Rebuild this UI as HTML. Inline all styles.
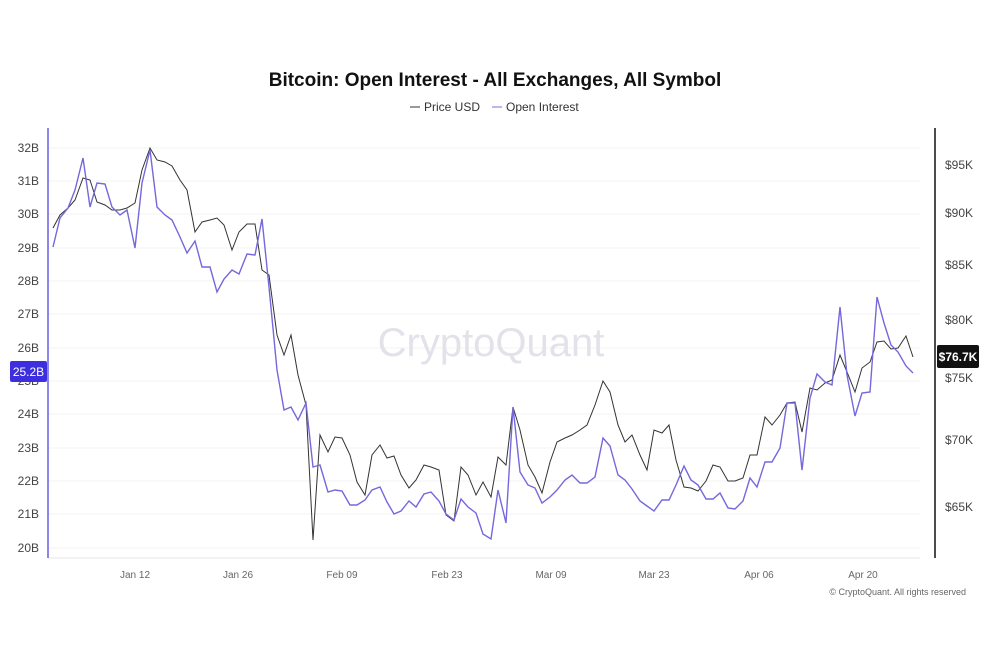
<!DOCTYPE html>
<html><head><meta charset="utf-8"><style>
html,body{margin:0;padding:0;background:#fff;}
svg{display:block;font-family:"Liberation Sans",sans-serif;}
</style></head><body>
<svg width="990" height="660" viewBox="0 0 990 660" xmlns="http://www.w3.org/2000/svg">
<rect width="990" height="660" fill="#fff"/>
<text x="495" y="86" text-anchor="middle" font-size="19" font-weight="bold" fill="#111">Bitcoin: Open Interest - All Exchanges, All Symbol</text>
<line x1="410" y1="107" x2="420" y2="107" stroke="#333" stroke-width="1"/>
<text x="424" y="111" font-size="12" fill="#333">Price USD</text>
<line x1="492" y1="107" x2="502" y2="107" stroke="#7b6fdc" stroke-width="1"/>
<text x="506" y="111" font-size="12" fill="#333">Open Interest</text>
<g stroke="#f3f3f3" stroke-width="1">
<line x1="48" y1="148" x2="920" y2="148"/><line x1="48" y1="181" x2="920" y2="181"/><line x1="48" y1="214" x2="920" y2="214"/><line x1="48" y1="248" x2="920" y2="248"/><line x1="48" y1="281" x2="920" y2="281"/><line x1="48" y1="314" x2="920" y2="314"/><line x1="48" y1="348" x2="920" y2="348"/><line x1="48" y1="381" x2="920" y2="381"/><line x1="48" y1="414" x2="920" y2="414"/><line x1="48" y1="448" x2="920" y2="448"/><line x1="48" y1="481" x2="920" y2="481"/><line x1="48" y1="514" x2="920" y2="514"/><line x1="48" y1="548" x2="920" y2="548"/>
</g>
<line x1="48" y1="558" x2="920" y2="558" stroke="#e6e6e6"/>
<text x="491" y="356" text-anchor="middle" font-size="40" fill="#e2e2ea">CryptoQuant</text>
<line x1="48" y1="128" x2="48" y2="558" stroke="#6a5de0" stroke-width="1.5"/>
<line x1="935" y1="128" x2="935" y2="558" stroke="#111" stroke-width="1.5"/>
<g font-size="12" fill="#444" text-anchor="end">
<text x="39" y="152">32B</text><text x="39" y="185">31B</text><text x="39" y="218">30B</text><text x="39" y="252">29B</text><text x="39" y="285">28B</text><text x="39" y="318">27B</text><text x="39" y="352">26B</text><text x="39" y="385">25B</text><text x="39" y="418">24B</text><text x="39" y="452">23B</text><text x="39" y="485">22B</text><text x="39" y="518">21B</text><text x="39" y="552">20B</text>
</g>
<g font-size="12" fill="#444">
<text x="945" y="169">$95K</text><text x="945" y="217">$90K</text><text x="945" y="269">$85K</text><text x="945" y="324">$80K</text><text x="945" y="382">$75K</text><text x="945" y="444">$70K</text><text x="945" y="511">$65K</text>
</g>
<g font-size="10" fill="#666" text-anchor="middle">
<text x="135" y="578">Jan 12</text><text x="238" y="578">Jan 26</text><text x="342" y="578">Feb 09</text><text x="447" y="578">Feb 23</text><text x="551" y="578">Mar 09</text><text x="654" y="578">Mar 23</text><text x="759" y="578">Apr 06</text><text x="863" y="578">Apr 20</text>
</g>
<text x="966" y="595" text-anchor="end" font-size="9" fill="#666">© CryptoQuant. All rights reserved</text>
<polyline fill="none" stroke="#333" stroke-width="1" points="53,228 60,215 68,208 75,200 83,178 90,180 97,202 105,205 112,210 120,210 127,208 135,203 142,170 150,148 157,160 165,162 172,166 180,180 187,190 195,232 202,222 210,220 217,218 224,225 232,250 239,232 247,224 255,224 262,270 269,275 277,335 284,355 291,335 298,375 306,405 313,540 320,435 328,452 335,437 342,438 350,455 357,482 365,495 372,455 380,445 387,458 394,456 401,475 409,488 416,480 424,465 431,467 439,470 446,515 454,521 461,467 468,475 476,495 483,482 491,497 498,457 506,465 513,407 520,430 528,465 535,477 542,493 550,462 557,442 565,438 572,435 580,430 587,425 595,405 603,381 610,392 618,425 625,442 632,435 640,455 647,470 654,430 662,433 669,425 676,460 684,487 691,488 698,491 706,481 713,465 720,467 728,481 735,481 743,478 750,455 757,455 765,417 772,425 780,415 787,403 795,402 802,432 810,388 817,390 825,383 832,380 840,355 847,372 855,392 862,368 870,362 877,342 884,341 891,349 898,348 906,336 913,357"/>
<polyline fill="none" stroke="#7468dc" stroke-width="1.4" points="53,247 60,218 68,208 75,190 83,158 90,207 97,183 105,184 112,207 120,215 127,210 135,248 142,183 150,150 157,207 165,215 172,220 180,237 187,253 195,241 202,267 210,267 217,292 224,279 232,270 239,274 247,254 255,255 262,219 269,287 277,370 284,410 291,407 298,420 306,403 313,467 320,465 328,492 335,490 342,491 350,505 357,505 365,500 372,490 380,487 387,502 394,514 401,511 409,501 416,507 424,494 431,492 439,501 446,514 454,520 461,499 468,507 476,513 483,534 491,539 498,490 506,523 513,407 520,472 528,485 535,488 542,503 550,497 557,490 565,480 572,475 580,483 587,483 595,477 603,438 610,446 618,475 625,480 632,489 640,501 647,506 654,511 662,500 669,500 676,485 684,466 691,480 698,485 706,499 713,499 720,493 728,508 735,509 743,501 750,478 757,487 765,462 772,462 780,448 787,403 795,403 802,470 810,398 817,374 825,382 832,385 840,307 847,375 855,416 862,393 870,392 877,297 884,323 891,345 898,352 906,366 913,373"/>
<rect x="10" y="361" width="37" height="21" rx="2" fill="#3d2fe0"/>
<text x="28.5" y="376" text-anchor="middle" font-size="12" fill="#fff">25.2B</text>
<rect x="937" y="345" width="42" height="23" rx="2" fill="#111"/>
<text x="958" y="361" text-anchor="middle" font-size="12" font-weight="bold" fill="#fff">$76.7K</text>
</svg>
</body></html>
